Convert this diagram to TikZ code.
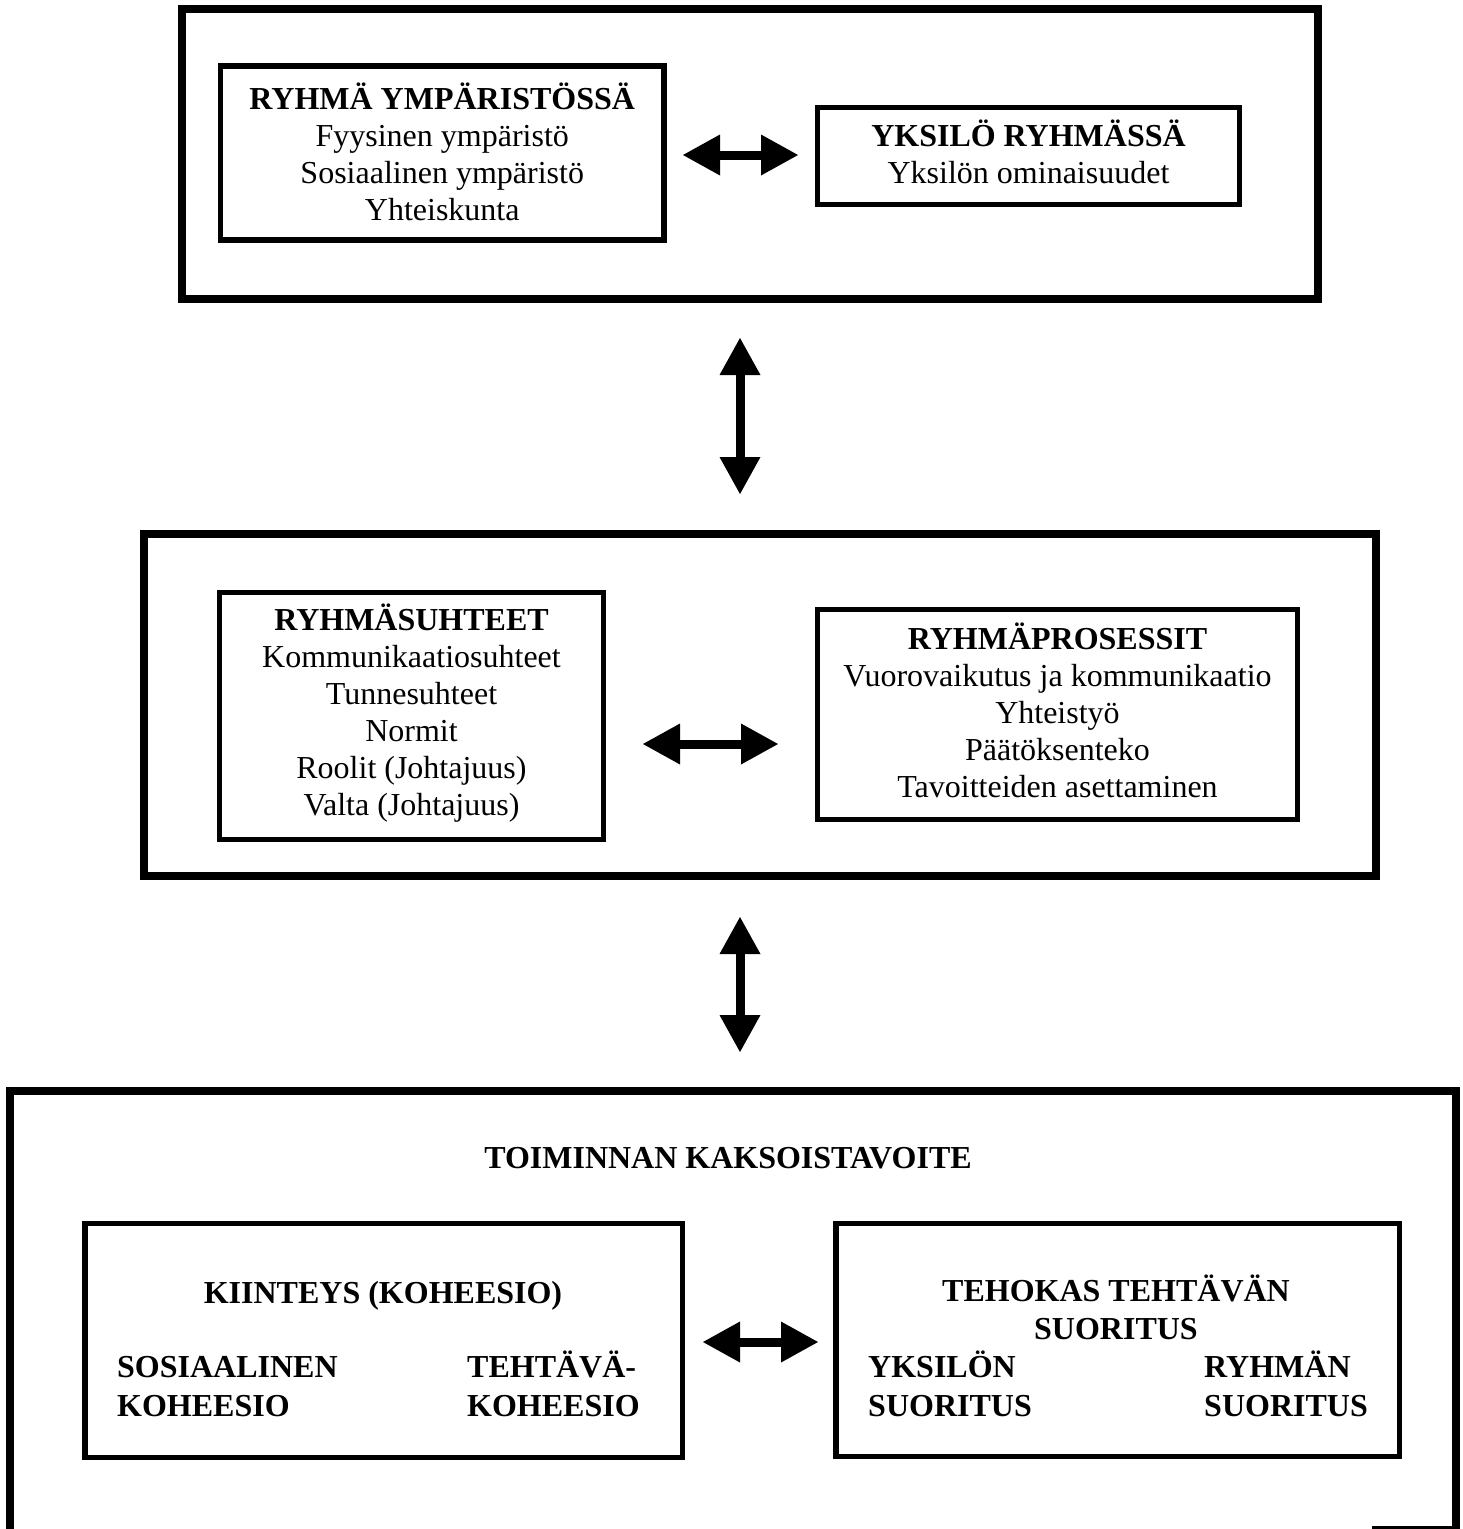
\documentclass[tikz,border=0pt]{standalone}
\usepackage{fontspec}
\setmainfont{Liberation Serif}
\usetikzlibrary{arrows.meta}
\begin{document}
\begin{tikzpicture}[x=1pt,y=-1pt,
  frame/.style={draw, line width=8pt, inner sep=0pt},
  box/.style={draw, line width=5.5pt, inner sep=0pt},
  boxtxt/.style={inner sep=0pt, align=center, font=\fontsize{32}{37}\selectfont},
  txt/.style={inner sep=0pt, align=center, font=\fontsize{32}{38}\selectfont\bfseries},
  dbl/.style={line width=9pt,
    {Triangle[length=37pt,width=41pt,line width=0pt]}-{Triangle[length=37pt,width=41pt,line width=0pt]}}]
\useasboundingbox[fill=white] (0,0) rectangle (1463,1529);

% ---------- top frame ----------
\node[frame, minimum width=1136pt, minimum height=290pt] (top) at (750,154) {};
\node[box, minimum width=443.5pt, minimum height=174pt] (env) at (442.25,153) {};
\node[boxtxt] (envtxt) at (442.25,151.5)
  {\textbf{RYHMÄ YMPÄRISTÖSSÄ}\\Fyysinen ympäristö\\Sosiaalinen ympäristö\\Yhteiskunta};
\node[box, minimum width=422pt, minimum height=97pt] (ind) at (1028.5,156) {};
\node[boxtxt] (indtxt) at (1028.5,151.5)
  {\textbf{YKSILÖ RYHMÄSSÄ}\\Yksilön ominaisuudet};
\coordinate (h1a) at (683,155);
\coordinate (h1b) at (798,155);
\draw[dbl] (h1a) -- (h1b);

% ---------- middle frame ----------
\coordinate (v1a) at (740,338);
\coordinate (v1b) at (740,494);
\draw[dbl] (v1a) -- (v1b);
\node[frame, minimum width=1232pt, minimum height=342pt] (mid) at (760,705) {};
\node[box, minimum width=384pt, minimum height=247pt] (rel) at (411.5,716) {};
\node[boxtxt] (reltxt) at (411.5,713.5)
  {\textbf{RYHMÄSUHTEET}\\Kommunikaatiosuhteet\\Tunnesuhteet\\Normit\\Roolit (Johtajuus)\\Valta (Johtajuus)};
\node[box, minimum width=480pt, minimum height=210pt] (proc) at (1057.5,714.5) {};
\node[boxtxt] (proctxt) at (1057.5,710.5)
  {\textbf{RYHMÄPROSESSIT}\\Vuorovaikutus ja kommunikaatio\\Yhteistyö\\Päätöksenteko\\Tavoitteiden asettaminen};
\coordinate (h2a) at (643,744);
\coordinate (h2b) at (778,744);
\draw[dbl] (h2a) -- (h2b);

% ---------- bottom frame ----------
\coordinate (v2a) at (740,917);
\coordinate (v2b) at (740,1052);
\draw[dbl] (v2a) -- (v2b);
\node[frame, minimum width=1446pt, minimum height=450pt] (goal) at (733,1316) {};
\coordinate (g1) at (1372,1527);
\coordinate (g2) at (1452,1527);
\draw[line width=3pt] (g1) -- (g2);
\node[txt] (goaltitle) at (728,1158) {TOIMINNAN KAKSOISTAVOITE};

\node[box, minimum width=597.5pt, minimum height=234pt] (coh) at (383.75,1340.5) {};
\node[txt] (cohtitle) at (383,1296) {KIINTEYS (KOHEESIO)};
\node[txt, anchor=base west] (soc1) at (117,1377) {SOSIAALINEN};
\node[txt, anchor=base west] (soc2) at (117,1416) {KOHEESIO};
\node[txt, anchor=base west] (task1) at (467,1377) {TEHTÄVÄ-};
\node[txt, anchor=base west] (task2) at (467,1416) {KOHEESIO};

\node[box, minimum width=563.5pt, minimum height=233pt] (perf) at (1117.75,1340) {};
\node[txt] (perftitle) at (1116,1307) {TEHOKAS TEHTÄVÄN\\SUORITUS};
\node[txt, anchor=base west] (yks1) at (868,1377) {YKSILÖN};
\node[txt, anchor=base west] (yks2) at (868,1416) {SUORITUS};
\node[txt, anchor=base west] (ryh1) at (1204,1377) {RYHMÄN};
\node[txt, anchor=base west] (ryh2) at (1204,1416) {SUORITUS};

\coordinate (h3a) at (703,1342);
\coordinate (h3b) at (818,1342);
\draw[dbl] (h3a) -- (h3b);
\end{tikzpicture}
\end{document}
